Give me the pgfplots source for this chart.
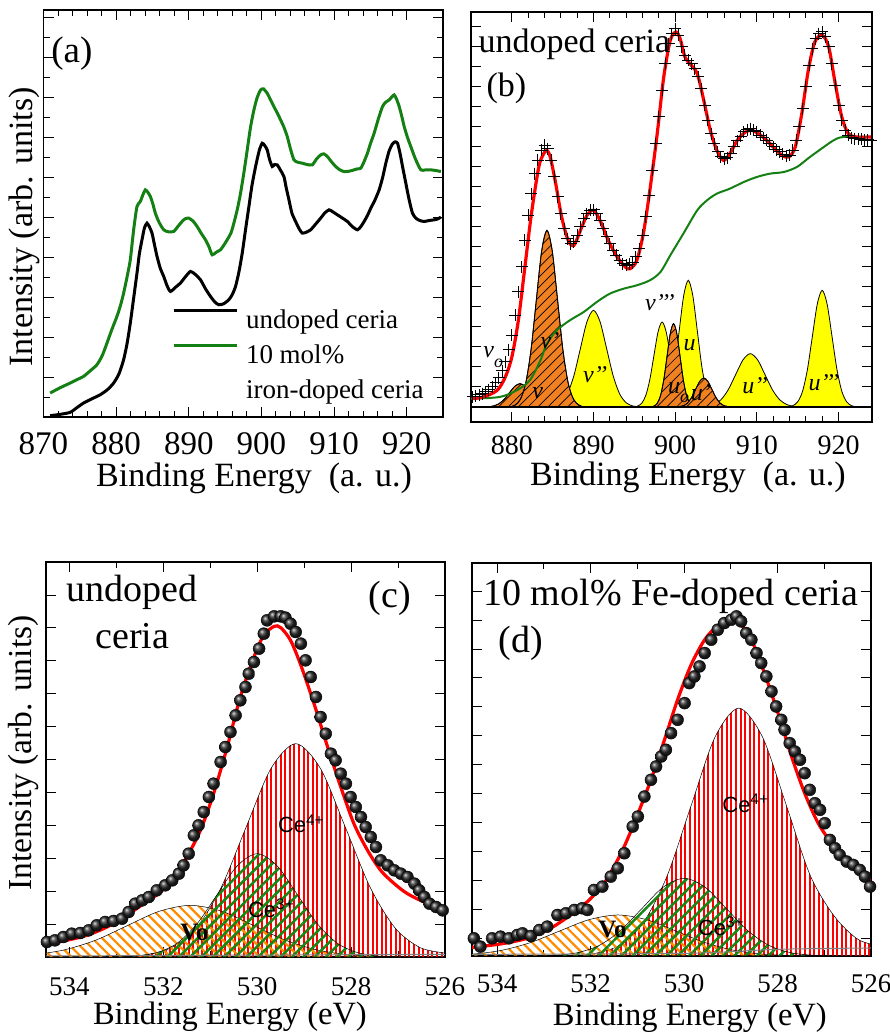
\documentclass[border=0pt]{standalone}
\usepackage{fontspec}
\setmainfont{Liberation Serif}
\newfontfamily\sansf{Liberation Sans}
\usepackage{pgfplots}
\pgfplotsset{compat=1.18}
\usetikzlibrary{patterns.meta}
\definecolor{fitred}{RGB}{255,0,0}
\definecolor{dgreen}{RGB}{20,128,20}
\definecolor{porange}{RGB}{240,128,32}
\definecolor{pyellow}{RGB}{255,255,0}
\definecolor{lorange}{RGB}{255,140,0}
\definecolor{lgreen}{RGB}{20,135,20}
\definecolor{pviolet}{RGB}{130,20,150}
\newcommand\fs[1]{\fontsize{#1pt}{#1pt}\selectfont}
\pgfplotsset{
 myaxis/.style={scale only axis, anchor=south west,
   axis line style={line width=1.5pt}, tick style={black, line width=1pt},
   major tick length=10pt, minor tick length=6pt, tick align=inside,
   xticklabel pos=lower, yticklabels={},
   /pgf/number format/assume math mode=true},
 yel/.style={fill=pyellow, draw=black, line width=0.8pt, smooth},
 ora/.style={fill=porange, draw=black, line width=0.8pt, smooth,
   postaction={pattern={Lines[angle=45,distance=7pt,line width=0.7pt]}, pattern color=black}},
 balls/.style={only marks, mark=ball, mark size=6pt, mark options={ball color=black!85}},
}
\begin{document}
\begin{tikzpicture}
\useasboundingbox (0,0) rectangle (890pt,1034pt);
% ---------------- (a)
\begin{axis}[myaxis, at={(43.5pt,617pt)}, width=399.5pt, height=407pt,
  xmin=870, xmax=925, ymin=0, ymax=1222,
  xtick={870,880,...,920}, minor x tick num=4,
  ytick={0,120,...,1200}, minor y tick num=1,
  xticklabel style={font=\fs{33}, anchor=base, yshift=-38pt},
  xlabel={Binding Energy\ \ (a. u.)},
  xlabel style={at={(axis description cs:0.527,-0.172)}, anchor=base, font=\fs{34}},
  ylabel={Intensity (arb. units)},
  ylabel style={at={(axis description cs:-0.0263,0.467)}, anchor=base, font=\fs{34}},
  legend style={at={(axis description cs:0.3217,0.2727)}, anchor=north west, draw=none, fill=none,
    inner sep=0pt, outer sep=0pt, row sep=6pt, column sep=8pt, font=\fs{27},
    nodes={inner sep=0pt, text height=22pt, text depth=7pt}},
  legend cell align=left,
  legend image code/.code={\draw[#1, line width=3pt] (0pt,10pt) -- (63pt,10pt);},
]
\addplot[black, line width=3pt, smooth, tension=0.4] coordinates {
(870.92,4) (872.3,8) (873.68,14) (874.6,28) (875.52,42) (876.7,55) (877.82,67) (878.8,82) (879.66,102)
(880.4,130) (881.03,172) (881.5,220) (881.95,282) (882.4,355) (882.87,432) (883.2,490) (883.56,532) (883.9,568)
(884.25,582) (884.6,570) (884.94,552) (885.3,515) (885.63,482) (886.1,445) (886.55,422) (887.0,395) (887.47,377)
(888.2,390) (888.85,402) (889.5,420) (890.23,437) (890.9,428) (891.61,412) (892.3,385) (892.99,362) (893.6,345)
(894.14,337) (894.8,340) (895.52,352) (896.0,368) (896.44,392) (896.9,435) (897.36,492) (897.8,560) (898.28,632)
(898.7,695) (899.20,752) (899.7,800) (900.11,822) (900.45,815) (900.80,802) (901.1,775) (901.49,752) (901.8,758)
(902.18,757) (902.6,742) (903.10,722) (903.4,690) (903.79,652) (904.2,612) (904.71,587) (905.2,565) (905.63,552)
(906.2,555) (906.78,562) (907.5,580) (908.16,597) (908.7,612) (909.31,622) (909.9,615) (910.46,607) (911.1,598)
(911.84,587) (912.5,572) (913.22,562) (913.7,572) (914.14,587) (914.6,605) (915.06,627) (915.6,650) (916.21,682)
(916.7,720) (917.13,762) (917.6,800) (918.05,820) (918.4,826) (918.74,822) (919.1,790) (919.43,752) (919.9,700)
(920.34,652) (920.8,612) (921.26,597) (921.8,590) (922.41,587) (923.1,590) (923.79,592) (924.2,594) (924.71,600)};
\addlegendentry{undoped ceria}
\addplot[dgreen, line width=3pt, smooth, tension=0.4] coordinates {
(870.92,72) (872.3,88) (873.68,102) (874.6,112) (875.52,122) (876.4,138) (877.36,157) (878.1,185) (878.74,222)
(879.4,262) (880.11,302) (880.6,335) (881.03,372) (881.5,420) (881.95,472) (882.4,560) (882.87,632) (883.33,647)
(883.7,668) (884.02,682) (884.35,675) (884.71,662) (885.05,640) (885.40,612) (885.9,585) (886.55,562) (887.2,556)
(887.93,557) (888.5,572) (889.08,587) (889.5,595) (890.00,597) (890.6,588) (891.15,572) (891.7,552) (892.30,532)
(892.8,510) (893.22,487) (893.8,495) (894.37,502) (894.8,515) (895.29,532) (895.8,552) (896.21,582) (896.7,625)
(897.13,672) (897.6,735) (898.05,802) (898.5,870) (898.97,922) (899.4,958) (899.89,982) (900.3,985) (900.80,972)
(901.2,955) (901.72,932) (902.2,912) (902.64,892) (903.1,870) (903.56,842) (904.0,805) (904.48,772) (905.0,765)
(905.63,762) (906.3,758) (907.01,757) (907.6,775) (908.16,787) (908.6,790) (909.08,782) (909.7,765) (910.23,752)
(910.8,742) (911.38,737) (912.1,738) (912.76,742) (913.2,745) (913.68,747) (914.1,765) (914.60,792) (915.0,820)
(915.52,852) (916.1,895) (916.67,932) (917.1,945) (917.59,952) (918.0,962) (918.28,967) (918.6,955) (918.97,932)
(919.3,905) (919.66,872) (920.1,840) (920.57,812) (921.2,775) (921.95,742) (922.6,742) (923.33,742) (924.0,740)
(924.71,737)};
\addlegendentry{10 mol\%}
\addlegendimage{empty legend}
\addlegendentry{iron-doped ceria}
\node[anchor=base west, font=\fs{37}] at (axis description cs:0.011,0.872) {(a)};
\end{axis}
% ---------------- (b)
\begin{axis}[myaxis, at={(471pt,612pt)}, width=401pt, height=410pt,
  xmin=875, xmax=924.1, ymin=-45, ymax=1185,
  xtick={880,890,...,920}, minor x tick num=4,
  ytick={0,60,...,1140},
  xticklabel style={font=\fs{28}, anchor=base, yshift=-33pt},
  xlabel={Binding Energy\ \ (a. u.)},
  xlabel style={at={(axis description cs:0.541,-0.1537)}, anchor=base, font=\fs{34}},
]
% yellow peaks
\addplot[fill=pyellow, draw=pviolet, line width=0.8pt, smooth] coordinates {(879.1,0) (879.6,1.0) (880.1,3.9) (880.6,11.9) (881.1,28.6) (881.6,53.4) (882.1,77.7) (882.6,88) (883.1,77.7) (883.6,53.4) (884.1,28.6) (884.6,11.9) (885.1,3.9) (885.6,1.0) (886.1,0)} \closedcycle;
\addplot[yel] coordinates {(884.4,0) (885.2,3.2) (886.0,12.7) (886.8,39.2) (887.6,94.2) (888.4,175.9) (889.2,255.9) (890.0,290) (890.8,255.9) (891.6,175.9) (892.4,94.2) (893.2,39.2) (894.0,12.7) (894.8,3.2) (895.6,0)} \closedcycle;
\addplot[yel] coordinates {(894.9,0) (895.4,2.8) (895.9,11.2) (896.4,34.5) (896.9,82.8) (897.4,154.7) (897.9,225.0) (898.4,255) (898.9,225.0) (899.4,154.7) (899.9,82.8) (900.4,34.5) (900.9,11.2) (901.4,2.8) (901.9,0)} \closedcycle;
\addplot[yel] coordinates {(897.75,0) (898.3,4.2) (898.85,16.7) (899.4,51.4) (899.95,123.4) (900.5,230.5) (901.05,335.4) (901.6,380) (902.15,335.4) (902.7,230.5) (903.25,123.4) (903.8,51.4) (904.35,16.7) (904.9,4.2) (905.45,0)} \closedcycle;
\addplot[yel] coordinates {(902.9,0) (903.8,1.8) (904.7,7.0) (905.6,21.6) (906.5,52.0) (907.4,97.0) (908.3,141.2) (909.2,160) (910.1,141.2) (911.0,97.0) (911.9,52.0) (912.8,21.6) (913.7,7.0) (914.6,1.8) (915.5,0)} \closedcycle;
\addplot[yel] coordinates {(913.8,0) (914.4,3.9) (915.0,15.4) (915.6,47.4) (916.2,113.6) (916.8,212.3) (917.4,308.9) (918.0,350) (918.6,308.9) (919.2,212.3) (919.8,113.6) (920.4,47.4) (921.0,15.4) (921.6,3.9) (922.2,0)} \closedcycle;
% orange peaks
\addplot[ora] coordinates {(876.45,0) (877.1,0.8) (877.75,3.1) (878.4,9.5) (879.05,22.7) (879.7,42.5) (880.35,61.8) (881.0,70) (881.65,61.8) (882.3,42.5) (882.95,22.7) (883.6,9.5) (884.25,3.1) (884.9,0.8) (885.55,0)} \closedcycle;
\addplot[ora] coordinates {(879.75,0) (880.4,5.9) (881.05,23.3) (881.7,71.7) (882.35,172.1) (883.0,321.4) (883.65,467.7) (884.3,530) (884.95,467.7) (885.6,321.4) (886.25,172.1) (886.9,71.7) (887.55,23.3) (888.2,5.9) (888.85,0)} \closedcycle;
\addplot[ora] coordinates {(897.0,0) (897.4,2.8) (897.8,11.0) (898.2,33.8) (898.6,81.2) (899.0,151.6) (899.4,220.6) (899.8,250) (900.2,220.6) (900.6,151.6) (901.0,81.2) (901.4,33.8) (901.8,11.0) (902.2,2.8) (902.6,0)} \closedcycle;
\addplot[ora] coordinates {(900.0,0) (900.5,1.0) (901.0,3.8) (901.5,11.8) (902.0,28.2) (902.5,52.8) (903.0,76.8) (903.5,87) (904.0,76.8) (904.5,52.8) (905.0,28.2) (905.5,11.8) (906.0,3.8) (906.5,1.0) (907.0,0)} \closedcycle;
\addplot[black, line width=1.5pt] coordinates {(875,0) (924.1,0)};
% background
\addplot[dgreen, line width=2pt, smooth] coordinates {
(875.0,25) (878.5,30) (880.6,50) (882.2,80) (883.5,140) (884.3,190) (885.5,230) (887.1,260) (888.8,285)
(890.4,315) (892.0,340) (893.7,355) (895.3,365) (896.9,380) (898.2,405) (899.4,455) (901.0,520) (902.7,590)
(903.9,620) (905.1,640) (906.7,655) (908.4,675) (910.0,690) (911.6,700) (913.3,705) (914.9,720) (916.5,750)
(918.2,780) (919.4,800) (920.6,810) (924.1,810)};
% data
\addplot[only marks, mark=+, mark size=6pt, mark options={black, line width=1pt}] coordinates {
(875.2,30) (875.6,32) (876.0,36) (876.4,40) (876.8,45) (877.2,52) (877.6,60) (878.0,72) (878.4,88) (878.8,108)
(879.2,135) (879.6,172) (880.0,215) (880.4,275) (880.8,345) (881.2,420) (881.6,500) (882.0,575) (882.4,640)
(882.8,700) (883.2,740) (883.6,770) (884.0,785) (884.4,775) (884.8,740) (885.2,690) (885.6,630) (886.0,580)
(886.4,535) (886.8,505) (887.2,490) (887.6,495) (888.0,515) (888.4,540) (888.8,565) (889.2,580) (889.6,590)
(890.0,592) (890.4,580) (890.8,560) (891.2,535) (891.6,510) (892.0,490) (892.4,470) (892.8,455) (893.2,440)
(893.6,430) (894.0,425) (894.4,428) (894.8,432) (895.2,450) (895.6,475) (896.0,515) (896.4,570) (896.8,635)
(897.2,710) (897.6,790) (898.0,870) (898.4,950) (898.8,1030) (899.2,1090) (899.6,1120) (900.0,1135) (900.4,1115)
(900.8,1080) (901.2,1055) (901.6,1040) (902.0,1030) (902.4,1015) (902.8,990) (903.2,955) (903.6,905) (904.0,860)
(904.4,820) (904.8,790) (905.2,765) (905.6,750) (906.0,745) (906.4,748) (906.8,760) (907.2,780) (907.6,798)
(908.0,812) (908.4,825) (908.8,832) (909.2,835) (909.6,830) (910.0,825) (910.4,815) (910.8,808) (911.2,800)
(911.6,790) (912.0,780) (912.4,772) (912.8,765) (913.2,758) (913.6,752) (914.0,755) (914.4,770) (914.8,800)
(915.2,840) (915.6,895) (916.0,960) (916.4,1025) (916.8,1075) (917.2,1105) (917.6,1120) (918.0,1125) (918.4,1110)
(918.8,1080) (919.2,1030) (919.6,965) (920.0,905) (920.4,860) (920.8,830) (921.2,815) (921.6,808) (922.0,805)
(922.4,805) (922.8,803) (923.2,800) (923.6,802) (924.0,800)};
% fit
\addplot[fitred, line width=3.2pt, smooth] coordinates {
(875.1,25) (876.5,30) (878.2,50) (879.2,90) (880.0,150) (880.8,260) (881.6,420) (882.4,580) (883.3,720)
(883.9,760) (884.3,770) (884.7,750) (885.3,680) (886.1,570) (886.9,500) (887.6,485) (888.4,530) (889.2,575)
(890.0,590) (890.8,560) (891.8,500) (892.9,450) (893.9,420) (894.5,415) (895.3,440) (896.1,520) (896.9,650)
(897.8,820) (898.6,990) (899.4,1100) (900.1,1125) (900.6,1105) (901.2,1050) (901.8,1030) (902.7,1000)
(903.5,920) (904.3,830) (905.1,770) (905.9,740) (906.7,760) (907.6,800) (908.6,825) (909.4,830) (910.2,820)
(911.2,800) (912.2,775) (913.1,755) (913.9,750) (914.7,780) (915.5,880) (916.3,1010) (917.1,1095) (918.0,1115)
(918.8,1080) (919.6,970) (920.4,870) (921.2,820) (922.2,810) (924.0,810)};
\node[anchor=base west, font=\fs{34}] at (axis description cs:0.010,0.902) {undoped ceria};
\node[anchor=base west, font=\fs{34}] at (axis description cs:0.030,0.793) {(b)};
\begin{scope}[every node/.style={anchor=base west, font=\fs{24}\itshape, inner sep=0pt}]
\node at (axis cs:876.5,149) {v\raisebox{-10pt}{\fs{18}o}};
\node at (axis cs:883.5,176) {v'};
\node at (axis cs:882.5,26) {v};
\node at (axis cs:888.7,74) {v'{}'};
\node at (axis cs:896.3,290) {v'{}'{}'};
\node at (axis cs:901.0,170) {u};
\node at (axis cs:899.1,41) {u\raisebox{-9pt}{\fs{18}o}};
\node at (axis cs:901.9,20) {u'};
\node at (axis cs:908.2,41) {u'{}'};
\node at (axis cs:916.3,50) {u'{}'{}'};
\end{scope}
\end{axis}
% ---------------- (c)
\begin{axis}[myaxis, at={(46pt,77pt)}, width=399pt, height=395pt,
  xmin=526, xmax=534.5, x dir=reverse, ymin=0, ymax=1185,
  xtick={526,528,...,534}, minor x tick num=1,
  ytick={0,98.7,...,1185},
  xticklabel style={font=\fs{27}, anchor=base, yshift=-38pt},
  xlabel={Binding Energy (eV)},
  xlabel style={at={(axis description cs:0.461,-0.172)}, anchor=base, font=\fs{32.5}},
  ylabel={Intensity (arb. units)},
  ylabel style={at={(axis description cs:-0.0351,0.516)}, anchor=base, font=\fs{33.5}},
]
\addplot[smooth, draw=black, line width=0.5pt, pattern={Lines[angle=90,distance=4.6pt,line width=1.9pt]}, pattern color=red] coordinates {
(532.9,0) (532.36,7.1) (531.83,28.1) (531.3,86.6) (530.77,207.8) (530.24,388.2) (529.71,564.8) (529.18,640)
(528.65,564.8) (528.12,388.2) (527.59,207.8) (527.06,86.6) (526.53,28.1) (526.0,12)} \closedcycle;
\addplot[smooth, draw=black, line width=0.5pt, pattern={Lines[angle=-45,distance=7pt,line width=2.2pt]}, pattern color=lorange] coordinates {
(536.2,0) (535.47,1.7) (534.795,6.8) (534.12,21.0) (533.445,50.3) (532.77,94.0) (532.095,136.8) (531.42,155)
(530.745,136.8) (530.07,94.0) (529.395,50.3) (528.72,21.0) (528.045,6.8) (527.37,1.7) (526.7,0)} \closedcycle;
\addplot[smooth, draw=black, line width=0.5pt, pattern={Lines[angle=45,distance=8pt,line width=2.5pt]}, pattern color=lgreen] coordinates {
(533.0,0) (532.55,3.4) (532.125,13.6) (531.7,41.9) (531.275,100.7) (530.85,188.0) (530.425,273.6) (530.0,310)
(529.575,273.6) (529.15,188.0) (528.725,100.7) (528.3,41.9) (527.875,13.6) (527.45,3.4) (527.0,0)} \closedcycle;
\addplot[gray, line width=1pt] coordinates {(534.5,3) (526,8)};
\addplot[balls] coordinates {
(534.48,45) (534.31,50) (534.13,60) (533.95,70) (533.77,72) (533.59,80) (533.42,95) (533.24,105) (533.06,108)
(532.88,115) (532.74,135) (532.60,160) (532.45,170) (532.31,180) (532.14,200) (531.96,215) (531.81,230)
(531.67,250) (531.57,275) (531.46,310) (531.35,365) (531.25,395) (531.14,435) (531.03,480) (530.93,520)
(530.78,585) (530.68,630) (530.57,675) (530.46,725) (530.36,770) (530.25,810) (530.18,850) (530.07,885)
(529.96,925) (529.86,970) (529.79,1010) (529.64,1022) (529.50,1022) (529.40,1018) (529.29,1000) (529.18,975)
(529.07,940) (528.97,890) (528.86,840) (528.75,780) (528.65,720) (528.54,670) (528.43,610) (528.33,590)
(528.22,550) (528.11,520) (528.01,480) (527.90,450) (527.79,420) (527.69,390) (527.58,360) (527.47,330)
(527.37,290) (527.22,275) (527.08,260) (526.94,250) (526.80,240) (526.65,220) (526.55,200) (526.44,180)
(526.33,160) (526.19,150) (526.05,140)};
\addplot[fitred, line width=3.2pt, smooth] coordinates {
(534.5,38) (534.06,50) (533.63,65) (533.2,90) (532.78,125) (532.42,160) (532.06,195) (531.78,240) (531.5,300)
(531.21,380) (530.93,490) (530.64,630) (530.36,780) (530.07,900) (529.86,965) (529.64,992) (529.5,988)
(529.29,950) (529.07,875) (528.79,760) (528.5,630) (528.22,510) (527.94,400) (527.65,320) (527.37,260)
(527.08,220) (526.8,190) (526.44,165) (525.98,145)};
\node[anchor=base west, font=\fs{38}] at (axis description cs:0.043,0.899) {undoped};
\node[anchor=base west, font=\fs{38}] at (axis description cs:0.115,0.782) {ceria};
\node[anchor=base west, font=\fs{38}] at (axis description cs:0.80,0.886) {(c)};
\node[anchor=base west, font=\fs{22}\sansf, inner sep=0pt] at (axis description cs:0.581,0.314) {Ce\textsuperscript{4+}};
\node[anchor=base west, font=\fs{22}\sansf, inner sep=0pt] at (axis description cs:0.506,0.101) {Ce\textsuperscript{3+}};
\node[anchor=base west, font=\fs{25}\bfseries, inner sep=0pt] at (axis description cs:0.336,0.043) {Vo};
\end{axis}
% ---------------- (d)
\begin{axis}[myaxis, at={(472pt,78pt)}, width=399pt, height=393pt,
  xmin=526, xmax=534.54, x dir=reverse, ymin=0, ymax=1178,
  xtick={526,528,...,534}, minor x tick num=1,
  ytick={53,139.7,...,1178},
  xticklabel style={font=\fs{27}, anchor=base, yshift=-37pt},
  xlabel={Binding Energy (eV)},
  xlabel style={at={(axis description cs:0.546,-0.1756)}, anchor=base, font=\fs{32.5}},
]
\addplot[smooth, draw=black, line width=0.5pt, pattern={Lines[angle=90,distance=4.6pt,line width=1.9pt]}, pattern color=red] coordinates {
(532.4,0) (531.89,8.2) (531.38,32.6) (530.87,100.5) (530.36,241.3) (529.85,450.6) (529.34,655.7) (528.83,743)
(528.32,655.7) (527.81,450.6) (527.3,241.3) (526.79,120) (526.28,50) (525.77,28)} \closedcycle;
\addplot[smooth, draw=black, line width=0.5pt, pattern={Lines[angle=-45,distance=7pt,line width=2.2pt]}, pattern color=lorange] coordinates {
(535.8,0) (535.17,1.4) (534.545,5.4) (533.92,16.6) (533.295,39.9) (532.67,74.6) (532.045,108.5) (531.42,123)
(530.795,108.5) (530.17,74.6) (529.545,39.9) (528.92,16.6) (528.295,5.4) (527.67,1.4) (527.0,0)} \closedcycle;
\addplot[smooth, draw=black, line width=0.5pt, pattern={Lines[angle=45,distance=8pt,line width=2.5pt]}, pattern color=lgreen] coordinates {
(533.2,0) (532.73,2.6) (532.275,10.2) (531.82,31.5) (531.365,75.7) (530.91,141.3) (530.455,205.6) (530.0,233)
(529.545,205.6) (529.09,141.3) (528.635,75.7) (528.18,31.5) (527.725,10.2) (527.27,2.6) (526.8,0)} \closedcycle;
\addplot[gray, line width=1pt, smooth] coordinates {(534.54,5) (530,8) (528,20) (526,24)};
\addplot[balls] coordinates {
(534.50,53) (534.36,28) (534.11,53) (533.93,58) (533.75,53) (533.57,63) (533.46,68) (533.28,60) (533.10,78)
(532.93,88) (532.71,123) (532.53,128) (532.35,138) (532.18,143) (532.07,138) (531.93,198) (531.75,208)
(531.57,238) (531.42,263) (531.28,308) (531.10,388) (530.99,418) (530.85,478) (530.71,528) (530.60,568)
(530.49,598) (530.39,618) (530.28,668) (530.14,708) (529.99,758) (529.89,818) (529.78,838) (529.67,868)
(529.56,908) (529.42,948) (529.28,978) (529.14,998) (528.99,1008) (528.88,1018) (528.78,1003) (528.67,968)
(528.56,948) (528.45,908) (528.35,878) (528.24,838) (528.13,793) (528.03,748) (527.92,708) (527.85,678)
(527.74,638) (527.63,613) (527.52,588) (527.42,548) (527.31,498) (527.20,458) (527.09,438) (526.99,398)
(526.88,348) (526.77,323) (526.67,303) (526.52,283) (526.38,273) (526.24,258) (526.13,238) (526.02,208)};
\addplot[fitred, line width=3.2pt, smooth] coordinates {
(534.54,26) (533.93,36) (533.36,53) (532.86,83) (532.43,123) (532.07,163) (531.71,218) (531.35,308) (531.07,398)
(530.71,528) (530.42,648) (530.14,768) (529.85,873) (529.56,948) (529.28,990) (529.0,1006) (528.78,993)
(528.56,948) (528.28,848) (527.99,728) (527.70,598) (527.42,488) (527.13,398) (526.84,338) (526.56,298)
(526.27,258) (525.97,223)};
\node[anchor=base west, font=\fs{38}] at (axis description cs:0.020,0.893) {10 mol\% Fe-doped ceria};
\node[anchor=base west, font=\fs{38}] at (axis description cs:0.058,0.771) {(d)};
\node[anchor=base west, font=\fs{22}\sansf, inner sep=0pt] at (axis description cs:0.627,0.366) {Ce\textsuperscript{4+}};
\node[anchor=base west, font=\fs{22}\sansf, inner sep=0pt] at (axis description cs:0.566,0.053) {Ce\textsuperscript{3+}};
\node[anchor=base west, font=\fs{25}\bfseries, inner sep=0pt] at (axis description cs:0.316,0.046) {Vo};
\end{axis}
\end{tikzpicture}
\end{document}
